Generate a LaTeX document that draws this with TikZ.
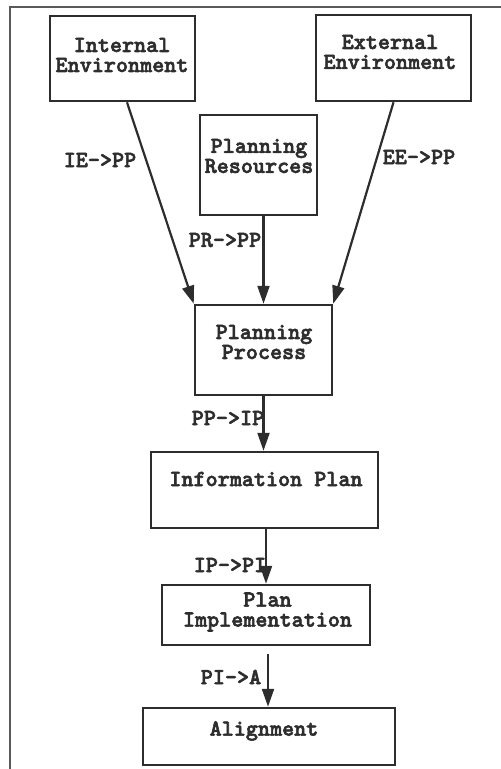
\documentclass[tikz,border=0pt]{standalone}
\usepackage{fontspec}
\usetikzlibrary{arrows.meta}
\newfontfamily\tyb{lmmonolt10-bold.otf}[FakeBold=2.5]
\definecolor{ink}{RGB}{45,45,45}
\definecolor{rule}{RGB}{90,90,90}
\begin{document}
\begin{tikzpicture}[x=1pt,y=-1pt,
  box/.style={draw=ink,line width=2.5pt,rectangle,inner sep=0pt},
  txt/.style={text=ink,font=\fontsize{23}{20}\selectfont\tyb,align=center,inner sep=0pt},
  lbl/.style={text=ink,font=\fontsize{23}{20}\selectfont\tyb,inner sep=0pt},
  flow/.style={draw=ink,line width=2.2pt,-{Triangle[length=18pt,width=12pt]}}]
\useasboundingbox (0,0) rectangle (501,769);
% outer frame
\draw[rule,line width=1.5pt] (10,769) -- (10,7) -- (501,7);
% boxes
\node[box,minimum width=145,minimum height=85] (ie) at (122.5,58.5) {};
\node[box,minimum width=155,minimum height=86] (ee) at (393.5,58) {};
\node[box,minimum width=117,minimum height=100] (pr) at (258.5,165) {};
\node[box,minimum width=137,minimum height=90] (pp) at (263.5,350) {};
\node[box,minimum width=227,minimum height=76] (ip) at (264.5,490) {};
\node[box,minimum width=208,minimum height=60] (pi) at (266,615) {};
\node[box,minimum width=252,minimum height=57] (al) at (269,736.5) {};
% box texts
\node[txt] (tie) at (122,55) {Internal\\Environment};
\node[txt] (tee) at (390,52) {External\\Environment};
\node[txt] (tpr) at (259,156) {Planning\\Resources};
\node[txt] (tpp) at (264,342) {Planning\\Process};
\node[txt] (tip) at (266,479) {Information Plan};
\node[txt] (tpi) at (267.5,612) {Plan\\Implementation};
\node[txt] (tal) at (264,731) {Alignment};
% connectors
\draw[flow] ([xshift=4.5pt]ie.south) -- (pp.north west);
\draw[flow] (pr.south -| pp.north) -- (pp.north);
\draw[flow] (ee.south) -- (pp.north east);
\draw[flow] (pp.south) -- (pp.south |- ip.north);
\draw[flow] (pi.north |- ip.south) -- (pi.north);
\draw[flow] ([xshift=2pt,yshift=-8pt]pi.south) -- ([xshift=2pt]pi.south |- al.north);
% connector labels
\node[lbl] (lie) at (100,160) {IE->PP};
\node[lbl] (lee) at (419,157) {EE->PP};
\node[lbl] (lpr) at (225,240) {PR->PP};
\node[lbl] (lpp) at (228,418) {PP->IP};
\node[lbl] (lip) at (230,565) {IP->PI};
\node[lbl] (lpi) at (231,677) {PI->A};
\end{tikzpicture}
\end{document}
